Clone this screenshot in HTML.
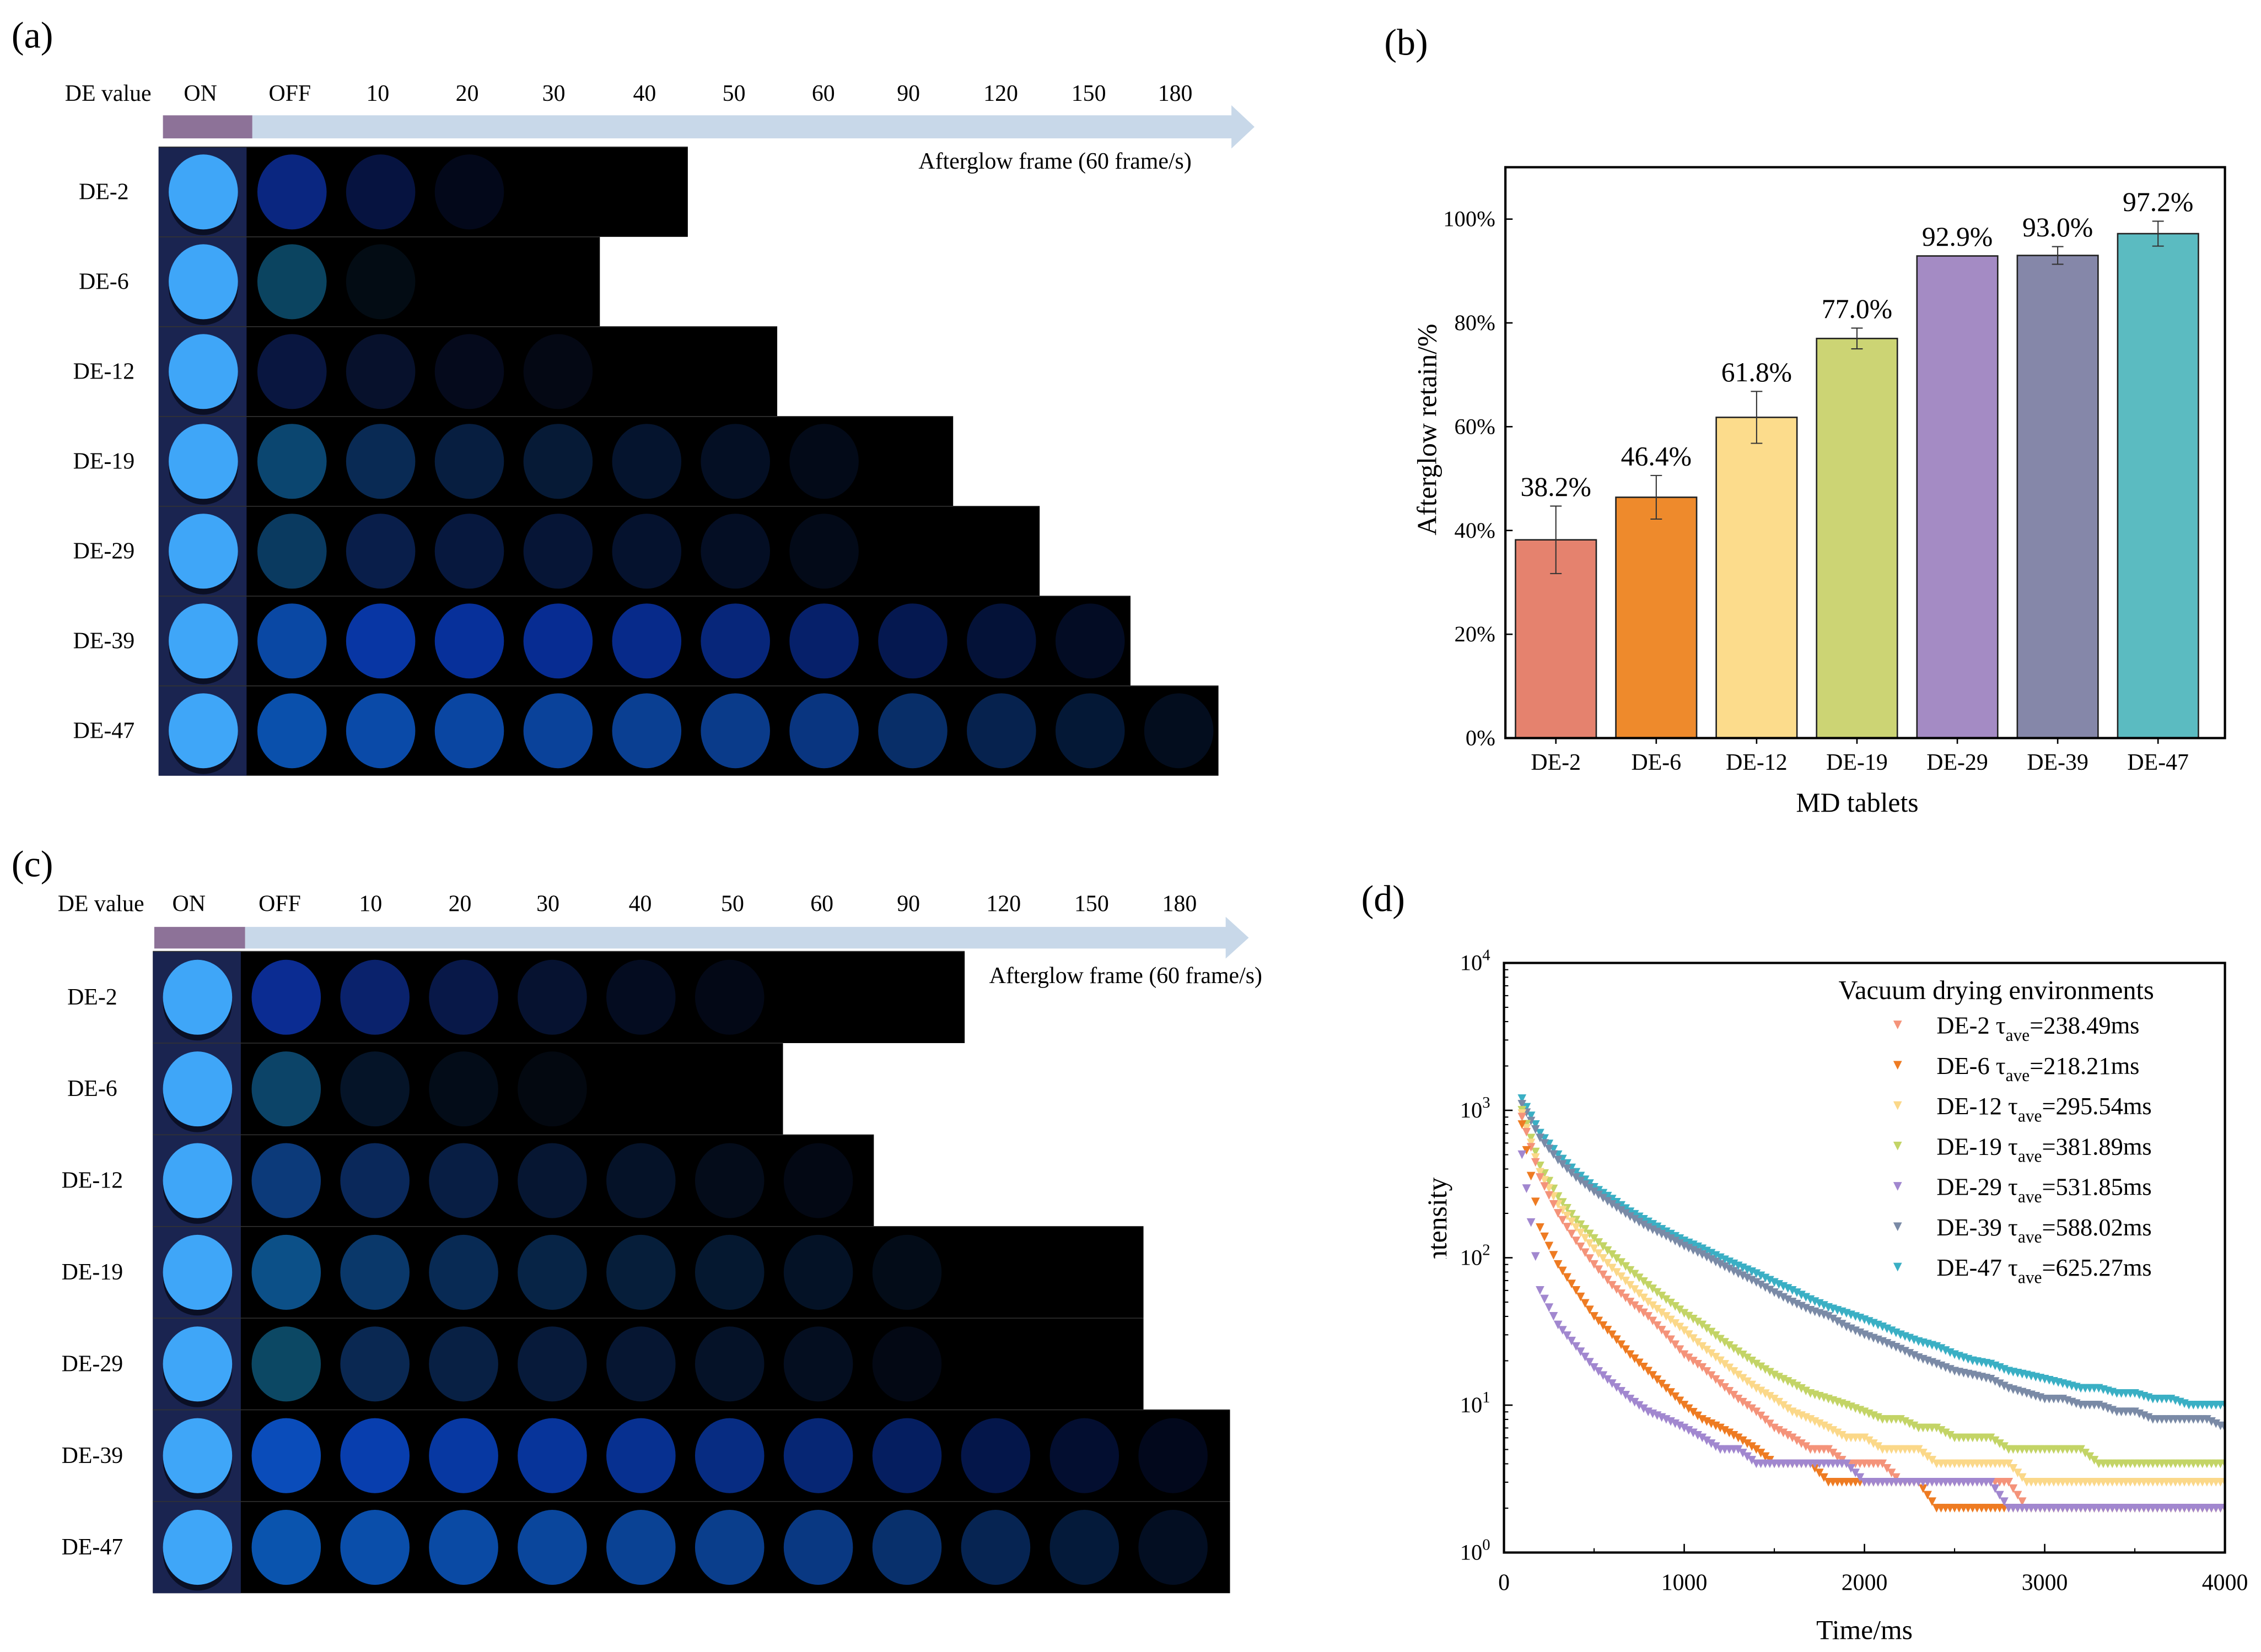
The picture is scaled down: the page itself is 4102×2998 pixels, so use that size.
<!DOCTYPE html>
<html><head><meta charset="utf-8">
<style>
html,body{margin:0;padding:0;background:#fff;}
svg{display:block;font-family:"Liberation Serif",serif;}
</style></head>
<body>
<svg id="fig" xmlns="http://www.w3.org/2000/svg" width="4102" height="2998" viewBox="0 0 1568 1146" preserveAspectRatio="none">
<rect width="1568" height="1146" fill="#fff"/>
<text x="8" y="33" font-size="26">(a)</text>
<text x="8" y="608" font-size="26">(c)</text>
<text x="960" y="38" font-size="26">(b)</text>
<text x="944" y="632" font-size="26">(d)</text>
<g id="pa"></g>
<g id="pc"></g>
<g id="pb"></g>
<g id="pd"></g>
</svg>
<script>
const NS="http://www.w3.org/2000/svg";
function mk(parent,tag,attrs,text){const e=document.createElementNS(NS,tag);for(const k in attrs)e.setAttribute(k,attrs[k]);if(text!==undefined)e.textContent=text;parent.appendChild(e);return e;}

// ---------- Panel b data ----------
const bCategories=["DE-2","DE-6","DE-12","DE-19","DE-29","DE-39","DE-47"];
const bValues=[38.2,46.4,61.8,77.0,92.9,93.0,97.2];
const bErrors=[6.5,4.2,5.0,2.0,0,1.7,2.4];
const bLabels=["38.2%","46.4%","61.8%","77.0%","92.9%","93.0%","97.2%"];
const bColors=["#E5826E","#EE8A2C","#FCDC8C","#CCD474","#A48BC4","#8587A9","#5BBBC1"];
const bTicks=[0,20,40,60,80,100];

// ---------- Panel d data ----------
const dTimes=[100,200,300,400,500,600,700,800,900,1000,1100,1200,1300,1400,1500,1600,1700,1800,1900,2000,2100,2200,2300,2400,2500,2600,2700,2800,2900,3000,3100,3200,3300,3400,3500,3600,3700,3800,3900,4000];
const dNames=["DE-2","DE-6","DE-12","DE-19","DE-29","DE-39","DE-47"];
const dTau=["238.49","218.21","295.54","381.89","531.85","588.02","625.27"];
const dColors=["#F4937A","#EE7B22","#FBD889","#C3D466","#A187CF","#7A8AA6","#3AAFC4"];
const dDE2=[900,350,200,130,90,65,50,40,30,22,18,14,11,9,7,6,5,5,4,4,4,3,3,3,3,3,3,3,2,2,2,2,2,2,2,2,2,2,2,2];
const dDE6=[800,160,90,60,40,30,22,17,13,10,8,7,6,5,4,4,4,3,3,3,3,3,3,2,2,2,2,2,2,2,2,2,2,2,2,2,2,2,2,2];
const dDE12=[950,380,230,160,115,85,65,50,40,32,25,20,16,13,11,9,8,7,6,6,5,5,5,4,4,4,4,4,3,3,3,3,3,3,3,3,3,3,3,3];
const dDE19=[1000,420,260,180,135,105,82,65,52,42,35,28,23,19,16,14,12,11,10,9,8,8,7,7,6,6,6,5,5,5,5,5,4,4,4,4,4,4,4,4];
const dDE29=[500,60,35,25,18,14,11,9,8,7,6,5,5,4,4,4,4,4,4,3,3,3,3,3,3,3,3,2,2,2,2,2,2,2,2,2,2,2,2,2];
const dDE39=[1100,650,460,350,280,230,190,160,140,120,105,90,78,68,58,50,44,40,34,30,27,24,21,19,17,16,15,13,12,11,11,10,10,9,9,8,8,8,8,7];
const dDE47=[1200,700,500,380,300,250,205,175,150,130,115,100,88,78,68,60,52,46,42,38,34,30,27,25,22,20,19,17,16,15,14,13,13,12,12,11,11,10,10,10];
const dSeries=[dDE2,dDE6,dDE12,dDE19,dDE29,dDE39,dDE47];
const dXTicks=[0,1000,2000,3000,4000];
const dYExp=[0,1,2,3,4];

// ---------- Panels a/c data ----------
const frameLabels=["ON","OFF","10","20","30","40","50","60","90","120","150","180"];
const rowNames=["DE-2","DE-6","DE-12","DE-19","DE-29","DE-39","DE-47"];
const aRowEnds=[477,416,539,661,721,784,845];
const cRowEnds=[669,543,606,793,793,853,853];
const aColors=[
 ["#0a2680","#061340","#03081a"],
 ["#0b4460","#030c14"],
 ["#091640","#07112c","#050a1c","#040814"],
 ["#0b4670","#092a54","#071e40","#061a36","#05142e","#040f24","#030a18"],
 ["#0a3a60","#091e4a","#07183e","#061536","#05122e","#040e24","#030a18"],
 ["#0a48a4","#0836a4","#07309a","#072c92","#072a8a","#07267a","#06206a","#051850","#041238","#030c24"],
 ["#0a50ac","#0a4aa8","#0a46a2","#0a429a","#0a3f92","#0a3b8a","#093580","#082e68","#06224e","#041836","#030d1e"]];
const cColors=[
 ["#0b2c92","#0a226c","#081848","#061230","#040c20","#030816"],
 ["#0c4468","#051428","#030c18","#030810"],
 ["#0c3a7a","#0a285a","#081e44","#061632","#051228","#040c1a","#030814"],
 ["#0c5088","#0a386a","#082a54","#072446","#061e3a","#051830","#041226","#030c18"],
 ["#0c4864","#0a2852","#082044","#071a3a","#061632","#051228","#040e20","#030814"],
 ["#0a4cba","#083eae","#0738a2","#07349a","#073090","#072c82","#062674","#051e60","#04164a","#030e30","#02081c"],
 ["#0a54ae","#0a4eaa","#0a4aa4","#0a469c","#0a4294","#0a3e8c","#093882","#08306c","#062452","#041a3a","#030e22"]];

function buildPanel(g,opt,ends,colors){
  const hx=opt.hx;
  mk(g,"text",{x:opt.dvx,y:opt.hy,"font-size":16,"text-anchor":"middle",},"DE value");
  frameLabels.forEach((l,i)=>{const t=mk(g,"text",{x:hx[i],y:opt.hy,"font-size":16,"text-anchor":"middle"},l);
    
    });
  const bar=mk(g,"rect",{x:opt.px,y:opt.by,width:opt.bx-opt.px,height:opt.bh,fill:"#8D7298"});
  
  const arr=mk(g,"polygon",{points:`${opt.bx},${opt.by} ${opt.ae-16},${opt.by} ${opt.ae-16},${opt.by-7} ${opt.ae},${opt.by+opt.bh/2} ${opt.ae-16},${opt.by+opt.bh+7} ${opt.ae-16},${opt.by+opt.bh} ${opt.bx},${opt.by+opt.bh}`,fill:"#C8D8E9"});
  
  rowNames.forEach((n,r)=>{
    const y0=opt.ry0+r*opt.rh;
    const row=mk(g,"g",{});
    
    
    mk(row,"rect",{x:opt.rx,y:y0,width:ends[r]-opt.rx,height:opt.rh,fill:"#000"});
    mk(row,"rect",{x:opt.rx,y:y0,width:61,height:opt.rh,fill:"#1a2450"});
    mk(row,"line",{x1:opt.rx,y1:y0,x2:ends[r],y2:y0,stroke:"#333","stroke-width":0.6});
    mk(row,"ellipse",{cx:opt.cx[0],cy:y0+opt.rh/2+4,rx:24,ry:26,fill:"#0a0f24"});
    mk(row,"ellipse",{cx:opt.cx[0],cy:y0+opt.rh/2,rx:24,ry:26,fill:"#3FA6F8"});
    colors[r].forEach((c,i)=>{mk(row,"ellipse",{cx:opt.cx[0]+61.5*(i+1),cy:y0+opt.rh/2,rx:24,ry:26,fill:c});});
    mk(g,"text",{x:opt.lx,y:y0+opt.rh/2+5,"font-size":16,"text-anchor":"middle"},n);
  });
  mk(g,"text",{x:opt.agx,y:opt.agy,"font-size":16,"text-anchor":"start",},"Afterglow frame (60 frame/s)");
}
buildPanel(document.getElementById("pa"),{hx:[139,201,262,324,384,447,509,571,630,694,755,815],hy:70,dvx:75,px:113,bx:175,by:80,bh:16,ae:870,rx:110,ry0:102,rh:62.3,cx:[141],lx:72,agx:637,agy:117},aRowEnds,aColors);
buildPanel(document.getElementById("pc"),{hx:[131,194,257,319,380,444,508,570,630,696,757,818],hy:632,dvx:70,px:107,bx:170,by:643,bh:15,ae:866,rx:106,ry0:660,rh:63.6,cx:[137],lx:64,agx:686,agy:682},cRowEnds,cColors);

// ---------- Panel b ----------
(function(){
  const g=document.getElementById("pb");
  const L=1044,R=1543,T=116,B=512;
  const y=v=>B-(v/100)*360;
  const x=i=>1079+i*69.6;
  bTicks.forEach(t=>{mk(g,"line",{x1:L,x2:L+5,y1:y(t),y2:y(t),stroke:"#000","stroke-width":1});
    const tl=mk(g,"text",{x:L-7,y:y(t)+5,"font-size":15.5,"text-anchor":"end"},t+"%");
    });
  bValues.forEach((v,i)=>{
    const r=mk(g,"rect",{x:x(i)-28,y:y(v),width:56,height:B-y(v),fill:bColors[i],stroke:"#222","stroke-width":1});
    
    
    if(bErrors[i]>0){
      mk(g,"line",{x1:x(i),x2:x(i),y1:y(v+bErrors[i]),y2:y(v-bErrors[i]),stroke:"#333","stroke-width":0.8});
      mk(g,"line",{x1:x(i)-4,x2:x(i)+4,y1:y(v+bErrors[i]),y2:y(v+bErrors[i]),stroke:"#333","stroke-width":0.8});
      mk(g,"line",{x1:x(i)-4,x2:x(i)+4,y1:y(v-bErrors[i]),y2:y(v-bErrors[i]),stroke:"#333","stroke-width":0.8});
    }
    const vl=mk(g,"text",{x:x(i),y:y(v+bErrors[i])-7,"font-size":19,"text-anchor":"middle"},bLabels[i]);
    
    const xl=mk(g,"text",{x:x(i),y:B+22,"font-size":16,"text-anchor":"middle"},bCategories[i]);
    
    mk(g,"line",{x1:x(i),x2:x(i),y1:B,y2:B+4,stroke:"#000","stroke-width":1});
  });
  mk(g,"rect",{x:L,y:T,width:R-L,height:B-T,fill:"none",stroke:"#000","stroke-width":1.6,});
  mk(g,"text",{x:0,y:0,"font-size":19,"text-anchor":"middle",transform:"translate(996,298) rotate(-90)",},"Afterglow retain/%");
  mk(g,"text",{x:1288,y:563,"font-size":19,"text-anchor":"middle",},"MD tablets");
})();

// ---------- Panel d ----------
(function(){
  const g=document.getElementById("pd");
  const L=1043,R=1543,T=668,B=1077;
  const x=t=>L+(t/4000)*(R-L);
  const y=v=>B-Math.log10(v)*((B-T)/4);
  const clip=mk(g,"clipPath",{id:"dclip"});mk(clip,"rect",{x:L,y:T,width:R-L,height:B-T});
  const pts=mk(g,"g",{"clip-path":"url(#dclip)"});
  
  const tri=(cx,cy,c,p)=>{const e=mk(p,"polygon",{points:`${cx-3},${cy-3} ${cx+3},${cy-3} ${cx},${cy+3}`,fill:c});return e;};
  const order=[6,5,3,2,0,1,4];
  order.forEach(s=>{
    const sg=mk(pts,"g",{});
    
    
    dSeries[s].forEach((v,i)=>{
      tri(x(dTimes[i]),y(v),dColors[s],sg);
      if(i<dTimes.length-1){
        const v2=dSeries[s][i+1];
        for(let k=1;k<4;k++){const f=k/4;tri(x(dTimes[i]+100*f),y(v*Math.pow(v2/v,f)),dColors[s],sg);}
      }
    });
  });
  dYExp.forEach(e=>{
    mk(g,"line",{x1:L,x2:L+6,y1:y(Math.pow(10,e)),y2:y(Math.pow(10,e)),stroke:"#000","stroke-width":1});
    const t=mk(g,"text",{x:L-20,y:y(Math.pow(10,e))+5,"font-size":15.5,"text-anchor":"middle"});
    
    mk(t,"tspan",{},"10");mk(t,"tspan",{dy:-7,"font-size":11},String(e));
    if(e<4)for(let m=2;m<10;m++){mk(g,"line",{x1:L,x2:L+3,y1:y(m*Math.pow(10,e)),y2:y(m*Math.pow(10,e)),stroke:"#000","stroke-width":0.8});}
  });
  dXTicks.forEach(t=>{
    mk(g,"line",{x1:x(t),x2:x(t),y1:B,y2:B-6,stroke:"#000","stroke-width":1});
    mk(g,"line",{x1:x(t+500),x2:x(t+500),y1:B,y2:B-3,stroke:"#000","stroke-width":0.8});
    const tl=mk(g,"text",{x:x(t),y:B+26,"font-size":16,"text-anchor":"middle"},String(t));
    
  });
  mk(g,"rect",{x:L,y:T,width:R-L,height:B-T,fill:"none",stroke:"#000","stroke-width":1.6,});
  mk(g,"text",{x:0,y:0,"font-size":19,"text-anchor":"middle",transform:"translate(1003,850) rotate(-90)",},"Intensity");
  mk(g,"rect",{x:985,y:873,width:25,height:40,fill:"#fff"});
  mk(g,"text",{x:1293,y:1137,"font-size":19,"text-anchor":"middle",},"Time/ms");
  const lg=mk(g,"g",{});
  
  mk(lg,"text",{x:1275,y:693,"font-size":18.5},"Vacuum drying environments");
  dNames.forEach((n,i)=>{
    const ly=711+i*28;
    const en=mk(lg,"g",{});
    
    tri(1316,ly,dColors[i],en);
    const t=mk(en,"text",{x:1343,y:ly+6,"font-size":17});
    mk(t,"tspan",{},n+" \u03c4");mk(t,"tspan",{dy:5,"font-size":12},"ave");mk(t,"tspan",{dy:-5},"="+dTau[i]+"ms");
  });
})();
</script>
</body></html>
